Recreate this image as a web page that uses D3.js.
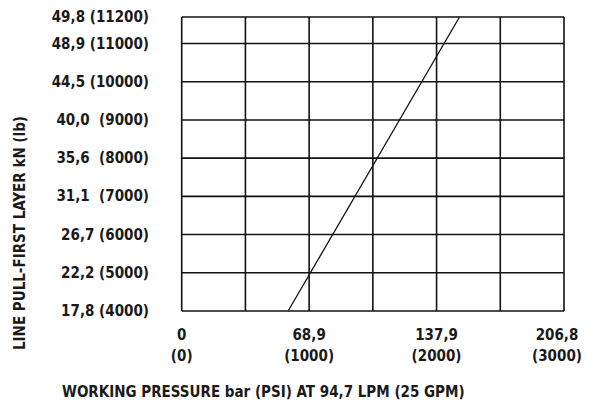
<!DOCTYPE html>
<html>
<head>
<meta charset="utf-8">
<script src="https://cdn.jsdelivr.net/npm/d3@7"></script>
<style>
  body { margin: 0; background: #fff; }
  svg text { font-family: "DejaVu Sans Condensed", "Liberation Sans Narrow", sans-serif; font-weight: bold; fill: #1a1a1a; white-space: pre; }
</style>
</head>
<body>
<div id="chart"></div>
<script>
// pressure ticks (psi) and their bar labels
const psiTicks = [0, 1000, 2000, 3000];
const barLabels = ["0", "68,9", "137,9", "206,8"];
const psiGrid = [0, 500, 1000, 1500, 2000, 2500, 3000];

// line pull ticks (lb) and their kN labels
const lbTicks = [4000, 5000, 6000, 7000, 8000, 9000, 10000, 11000, 11200];
const kNLabels = ["17,8", "22,2", "26,7", "31,1 ", "35,6 ", "40,0 ", "44,5", "48,9", "49,8"];

// performance line
const linePsi = [835, 2180];
const lineLb = [4000, 11200];

let width = 592, height = 400;
let svg = null, x = null, y = null;

appendSvg();
setupScales();
drawGrid();
drawAxesLabels();
drawLine();
drawTitles();

function appendSvg() {
  svg = d3.select("#chart")
    .append("svg")
    .attr("width", width)
    .attr("height", height);
}

function setupScales() {
  x = d3.scaleLinear().domain([0, 3000]).range([181.7, 564]);
  // top row (11000 -> 11200) is drawn taller than the rest on the original
  y = d3.scaleLinear().domain([4000, 11000, 11200]).range([311, 43.5, 17]);
}

function drawGrid() {
  let g = svg.append("g").attr("class", "grid")
    .style("stroke", "#111")
    .style("stroke-width", 1.6);

  g.selectAll("line.v")
    .data(psiGrid)
    .enter().append("line")
    .attr("class", "v")
    .attr("x1", d => x(d)).attr("x2", d => x(d))
    .attr("y1", y(11200)).attr("y2", y(4000));

  g.selectAll("line.h")
    .data(lbTicks)
    .enter().append("line")
    .attr("class", "h")
    .attr("x1", x(0)).attr("x2", x(3000))
    .attr("y1", d => y(d)).attr("y2", d => y(d));
}

function drawAxesLabels() {
  svg.append("g")
    .selectAll("text")
    .data(lbTicks)
    .enter().append("text")
    .attr("x", 149)
    .attr("y", d => y(d) + 5)
    .attr("text-anchor", "end")
    .style("font-size", "15px")
    .text((d, i) => kNLabels[i] + " (" + d + ")");

  let xl = svg.append("g")
    .selectAll("g")
    .data(psiTicks)
    .enter().append("g")
    // last label sits a bit left of its grid line on the original
    .attr("transform", (d, i) => i === psiTicks.length - 1 ? "translate(-7,0)" : null);

  xl.append("text")
    .attr("x", d => x(d))
    .attr("y", 340)
    .attr("text-anchor", "middle")
    .style("font-size", "15px")
    .text((d, i) => barLabels[i]);

  xl.append("text")
    .attr("x", d => x(d))
    .attr("y", 361)
    .attr("text-anchor", "middle")
    .style("font-size", "15px")
    .text(d => "(" + d + ")");
}

function drawLine() {
  let pts = linePsi.map((p, i) => [x(p), y(lineLb[i])]);
  svg.append("path")
    .attr("d", d3.line()(pts))
    .style("fill", "none")
    .style("stroke", "#111")
    .style("stroke-width", 1.3);
}

function drawTitles() {
  svg.append("text")
    .attr("x", 62)
    .attr("y", 397)
    .style("font-size", "15px")
    .text("WORKING PRESSURE bar (PSI) AT 94,7 LPM (25 GPM)");

  svg.append("text")
    .attr("transform", "translate(25,233) rotate(-90)")
    .attr("text-anchor", "middle")
    .style("font-size", "15px")
    .text("LINE PULL-FIRST LAYER kN (lb)");
}
</script>
</body>
</html>
